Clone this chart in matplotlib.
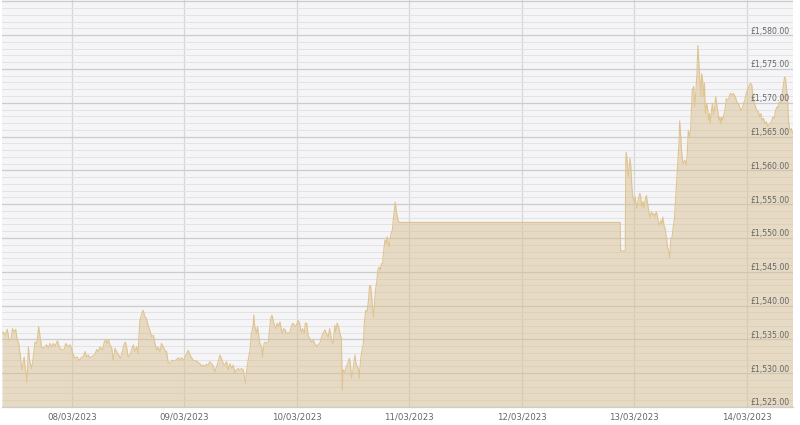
import numpy as np
import pandas as pd
import matplotlib
matplotlib.use("Agg")
import matplotlib.pyplot as plt
import matplotlib.dates as mdates
from matplotlib.ticker import MultipleLocator
import matplotlib.transforms as mtransforms

# hours since 07/03/2023 00:00 and gold price in GBP
hours = [
    9.1, 9.35, 9.7, 10.2, 10.6, 11.0, 11.3, 11.6, 12.0, 12.3, 12.6, 13.05, 13.3, 13.8, 14.0, 14.4,
    14.7, 15.0, 15.4, 15.75, 16.1, 16.5, 16.9, 17.2, 17.5, 17.9, 18.6, 19.0, 19.3, 19.7, 20.0, 20.4,
    20.9, 21.3, 21.8, 22.3, 22.7, 23.2, 23.6, 23.9, 24.3, 24.7, 25.1, 25.6, 26.1, 26.4, 26.8, 27.1,
    27.5, 27.8, 28.4, 28.9, 29.3, 29.6, 30.0, 30.5, 30.9, 31.2, 31.5, 31.8, 32.1, 32.5, 32.8, 33.2,
    33.5, 33.95, 34.4, 34.8, 35.1, 35.4, 35.7, 36.0,
    36.4, 36.7, 37.1, 37.4, 37.8, 38.1, 38.5, 38.9, 39.2, 39.6, 39.9, 40.3, 40.6, 41.0, 41.4, 41.7,
    42.1, 42.4, 42.8, 43.1, 43.5, 43.8, 44.2, 44.5, 44.9, 45.3, 46.0, 46.7, 47.0, 47.4, 47.8, 48.1,
    48.5, 48.8, 49.2, 49.5, 49.9, 50.6, 51.3, 51.7, 52.0, 52.4, 52.7, 53.1, 53.4, 53.8, 54.2, 54.5,
    54.9, 55.2, 55.6, 55.9, 56.3, 56.6, 57.0, 57.3, 57.7, 58.1, 58.4, 58.8, 59.1, 59.5, 59.8,
    60.2, 60.55, 61.05, 61.3, 61.6, 62.0, 62.3, 62.7, 62.8, 63.0, 63.4, 63.6, 63.9, 64.1, 64.5, 64.7,
    65.0, 65.2, 65.5, 65.9, 66.1, 66.4, 66.7, 66.95, 67.2, 67.5, 67.8, 68.1, 68.4, 68.7, 68.9, 69.2,
    69.5, 69.8, 70.5, 70.9, 71.2, 71.6, 71.9, 72.3, 72.6, 72.9, 73.2, 73.6, 73.8, 74.1, 74.4, 74.8,
    75.1, 75.5, 75.8, 76.2, 76.5, 76.9, 77.3, 77.6, 78.0, 78.3, 78.7, 79.0, 79.4, 79.75, 80.1, 80.3,
    80.6, 80.9, 81.2, 81.5, 81.7,
    81.9, 82.2, 82.6, 82.9, 83.2, 83.4, 83.7, 84.0, 84.4, 84.6, 84.9, 85.2, 85.3, 85.6, 85.9, 86.2,
    86.4, 86.7, 87.0, 87.3, 87.5, 87.7, 87.9, 88.1, 88.4, 88.6, 88.8, 89.1, 89.3, 89.6, 89.8, 90.1,
    90.3, 90.4, 90.6, 90.8, 91.1, 91.3, 91.5, 91.7, 92.0, 92.2, 92.4, 92.5, 92.8, 93.0, 93.3, 93.4,
    93.6, 93.8, 141.0, 141.1, 142.1,
    142.2, 142.3, 142.5, 142.75, 142.9, 143.1, 143.3, 143.5, 143.7, 144.0, 144.2, 144.4, 144.6, 144.9,
    145.2, 145.4, 145.6, 145.9, 146.1, 146.4, 146.6, 146.8, 147.0, 147.2, 147.4, 147.7, 147.9, 148.2,
    148.4, 148.7, 148.9, 149.2, 149.4, 149.7, 149.9, 150.1, 150.4, 150.6, 150.9, 151.1, 151.4, 151.6,
    151.8, 152.1, 152.3, 152.6, 153.0, 153.3, 153.6, 153.7, 153.9, 154.1, 154.4, 154.8, 155.1, 155.3,
    155.55, 155.8,
    156.05, 156.4, 156.7, 156.9, 157.1, 157.4, 157.6, 157.8, 158.0, 158.25, 158.4, 158.6, 158.8, 159.0,
    159.2, 159.5, 159.7, 159.9, 160.1, 160.3, 160.5, 160.7, 160.95, 161.2, 161.4, 161.7, 161.9, 162.1,
    162.3, 162.5, 162.7, 162.9, 163.2, 163.4, 163.65, 163.9, 164.2, 164.5, 164.8, 165.1, 165.4, 165.6,
    165.9, 166.2, 166.5, 166.8, 167.1, 167.35, 167.6, 167.9, 168.2, 168.5, 168.8, 169.1, 169.2, 169.4,
    169.6, 169.9, 170.2, 170.5, 170.8, 171.05, 171.3, 171.6, 171.9, 172.2, 172.5, 172.9, 173.3, 173.6,
    173.9, 174.2, 174.5, 174.7, 175.0, 175.3, 175.6, 175.9, 176.1, 176.3, 176.5, 176.7, 176.95, 177.2,
    177.5, 177.8,
]

prices = [
    1535.9, 1536.1, 1535.6, 1536.5, 1534.9, 1535.0, 1536.6, 1536.1, 1536.5, 1534.9, 1534.6, 1532.2, 1530.5, 1532.4, 1531.0, 1528.7,
    1533.9, 1531.7, 1530.7, 1532.4, 1534.6, 1534.4, 1536.9, 1535.4, 1533.9, 1533.7, 1534.2, 1533.7, 1534.4, 1533.9, 1534.4, 1534.0,
    1534.8, 1533.9, 1533.4, 1533.5, 1534.4, 1533.9, 1534.2, 1533.7, 1532.7, 1532.2, 1532.4, 1531.9, 1532.4, 1532.4, 1533.2, 1532.4,
    1532.7, 1532.3, 1532.5, 1532.8, 1533.5, 1533.2, 1533.9, 1533.4, 1534.6, 1535.0, 1534.4, 1535.0, 1534.2, 1533.7, 1531.9, 1533.7,
    1533.2, 1532.7, 1532.2, 1533.4, 1534.2, 1534.6, 1533.7, 1532.4,
    1532.7, 1533.4, 1534.2, 1533.2, 1533.9, 1532.9, 1537.8, 1538.8, 1539.3, 1538.3, 1538.1, 1536.9, 1536.4, 1535.4, 1535.6, 1534.4,
    1533.4, 1533.9, 1533.2, 1534.4, 1533.9, 1533.4, 1533.2, 1531.7, 1531.4, 1531.9, 1531.8, 1532.3, 1531.9, 1532.3, 1531.9, 1532.2,
    1532.9, 1533.4, 1532.7, 1532.3, 1531.9, 1531.8, 1531.4, 1531.0, 1531.2, 1531.0, 1531.3, 1531.2, 1531.7, 1531.4, 1531.0, 1530.2,
    1531.0, 1531.7, 1532.7, 1532.2, 1531.4, 1531.2, 1531.7, 1530.5, 1531.4, 1530.7, 1531.2, 1530.0, 1530.5, 1530.7, 1530.4,
    1530.7, 1530.5, 1528.5, 1530.5, 1531.9, 1533.4, 1535.9, 1537.1, 1538.6, 1536.9, 1535.9, 1536.9, 1535.4, 1534.4, 1533.9, 1532.4,
    1534.4, 1534.6, 1534.4, 1534.6, 1535.9, 1538.1, 1538.6, 1537.8, 1537.1, 1536.6, 1537.4, 1536.9, 1537.6, 1536.4, 1535.9, 1536.6,
    1536.4, 1535.9, 1536.0, 1537.1, 1537.4, 1536.9, 1537.1, 1537.8, 1537.4, 1536.1, 1536.6, 1535.9, 1537.4, 1537.4, 1535.6, 1535.1,
    1534.6, 1534.9, 1534.4, 1533.9, 1534.2, 1534.4, 1535.4, 1535.9, 1536.4, 1535.9, 1535.4, 1536.6, 1534.9, 1534.4, 1537.1, 1536.1,
    1537.4, 1536.9, 1535.9, 1535.1, 1527.5,
    1530.5, 1530.2, 1531.0, 1531.5, 1532.2, 1531.5, 1529.2, 1530.5, 1532.7, 1531.5, 1531.0, 1530.5, 1529.2, 1531.9, 1533.4, 1534.4,
    1537.4, 1539.3, 1539.1, 1540.8, 1542.8, 1543.0, 1542.0, 1540.1, 1538.3, 1540.6, 1542.3, 1543.8, 1545.3, 1545.7, 1545.3, 1546.2,
    1546.2, 1547.2, 1548.5, 1549.7, 1549.2, 1550.2, 1549.2, 1548.7, 1550.2, 1550.9, 1551.2, 1552.1, 1554.1, 1555.3, 1553.6, 1553.4,
    1552.6, 1552.3, 1552.3, 1548.1, 1548.1,
    1561.5, 1562.7, 1561.5, 1559.1, 1560.0, 1561.8, 1560.5, 1557.6, 1556.1, 1555.4, 1556.1, 1555.1, 1554.4, 1555.8,
    1556.6, 1556.1, 1554.6, 1555.4, 1554.4, 1555.8, 1556.3, 1555.4, 1554.6, 1553.6, 1553.1, 1553.9, 1553.4, 1553.6,
    1553.1, 1553.9, 1553.4, 1552.2, 1551.9, 1552.6, 1551.9, 1553.1, 1551.7, 1551.4, 1549.9, 1548.7, 1548.0, 1547.0,
    1549.7, 1550.2, 1551.4, 1552.9, 1557.5, 1561.0, 1564.5, 1567.3, 1565.5, 1563.0, 1561.0, 1561.5, 1560.8, 1562.0,
    1565.9, 1565.0,
    1566.0, 1571.9, 1572.4, 1569.4, 1570.9, 1574.3, 1578.5, 1575.8, 1573.4, 1570.9, 1574.3, 1573.4, 1570.9, 1572.9,
    1568.4, 1569.9, 1568.9, 1567.4, 1568.4, 1566.9, 1568.9, 1569.9, 1568.2, 1569.4, 1570.9, 1569.4, 1568.4, 1567.4,
    1567.9, 1566.9, 1567.9, 1567.4, 1568.4, 1568.9, 1570.6, 1570.4, 1570.6, 1571.4, 1571.1, 1571.4, 1571.1, 1570.9,
    1570.1, 1569.9, 1569.4, 1568.9, 1569.2, 1569.9, 1570.4, 1571.4, 1571.9, 1572.4, 1572.9, 1572.6, 1571.9, 1570.9,
    1570.1, 1569.4, 1568.9, 1568.7, 1567.9, 1568.4, 1567.4, 1567.7, 1566.9, 1567.2, 1566.5, 1566.9, 1567.2, 1567.9,
    1567.7, 1568.9, 1569.4, 1569.2, 1570.1, 1569.9, 1571.4, 1572.9, 1573.8, 1573.6, 1572.1, 1570.9, 1567.4, 1566.0,
    1566.2, 1565.5,
]

y_min, y_max = 1525, 1585.2
y_labels = [1525, 1530, 1535, 1540, 1545, 1550, 1555, 1560, 1565, 1570, 1575, 1580]

base = pd.Timestamp("2023-03-07")
times = base + pd.to_timedelta(hours, unit="h")

fig = plt.figure(figsize=(8, 4.25), dpi=100)
ax = fig.add_axes([2 / 800, 18 / 425, 791 / 800, 407 / 425])
ax.set_facecolor("#f5f5f7")

ax.fill_between(times, prices, y_min, color="#d8c192", alpha=0.5, linewidth=0, zorder=2)
ax.plot(times, prices, color="#dfc491", linewidth=0.8, zorder=3)

ax.set_ylim(y_min, y_max)
ax.set_xlim(base + pd.Timedelta(hours=9.07), base + pd.Timedelta(hours=177.9))

ax.yaxis.set_major_locator(MultipleLocator(5))
ax.yaxis.set_minor_locator(MultipleLocator(1))
ax.grid(which="major", axis="y", color="#cccccc", linewidth=0.9, zorder=1)
ax.grid(which="minor", axis="y", color="#e3e3e3", linewidth=0.7, zorder=1)
ax.grid(which="major", axis="x", color="#d6d6d6", linewidth=0.9, zorder=1)
ax.set_axisbelow(True)

ax.xaxis.set_major_locator(mdates.DayLocator())
ax.xaxis.set_major_formatter(mdates.DateFormatter("%d/%m/%Y"))
ax.tick_params(axis="x", length=0, pad=4, labelsize=6.2, labelcolor="#666666")
ax.tick_params(axis="y", which="both", length=0, labelleft=False)

for s in ["top", "left", "right"]:
    ax.spines[s].set_visible(False)
ax.spines["bottom"].set_color("#cccccc")
ax.spines["bottom"].set_linewidth(0.9)

trans = mtransforms.blended_transform_factory(ax.transAxes, ax.transData)
for v in y_labels:
    ax.text(0.996, v + 0.6, f"£{v:,.2f}", transform=trans, ha="right", va="center",
            fontsize=5.6, color="#666666", zorder=4)

fig.savefig("out.png", dpi=100)
